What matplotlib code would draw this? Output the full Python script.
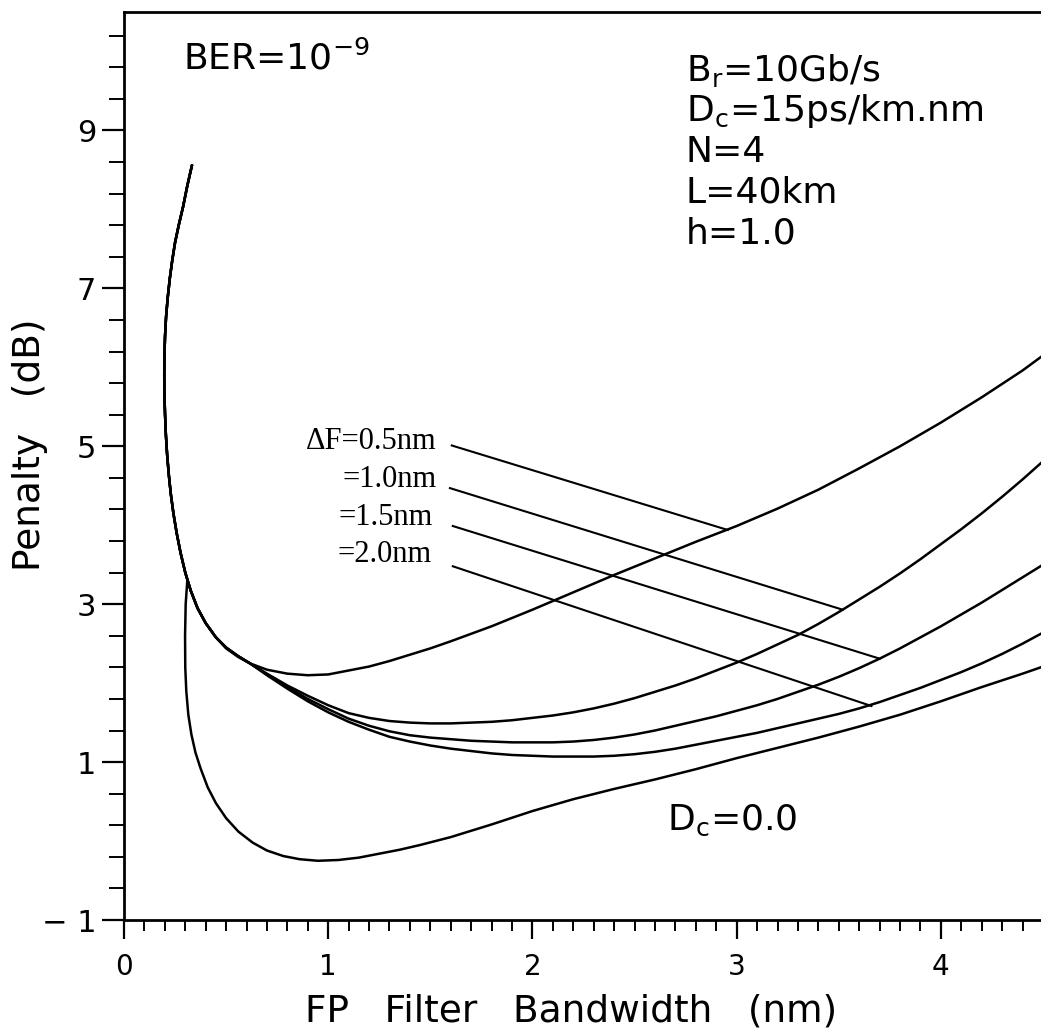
import numpy as np
import matplotlib
matplotlib.use('Agg')
import matplotlib.pyplot as plt
from matplotlib.ticker import FixedLocator

# Penalty vs FP filter bandwidth, Dc = 15 ps/km.nm for several channel spacings
# plus the dispersion-free reference curve.
# Steep left branch shared by the four Dc = 15 curves
top_x = [0.333, 0.310, 0.289, 0.268, 0.250, 0.236, 0.224, 0.214, 0.206, 0.201, 0.198,
         0.197, 0.198, 0.201, 0.205, 0.211, 0.219, 0.229, 0.242, 0.258, 0.277, 0.300,
         0.327, 0.360, 0.400, 0.450]
top_y = [8.56, 8.30, 8.03, 7.80, 7.58, 7.35, 7.12, 6.88, 6.64, 6.40, 6.15,
         5.90, 5.65, 5.40, 5.15, 4.90, 4.65, 4.40, 4.15, 3.90, 3.65, 3.40,
         3.17, 2.95, 2.76, 2.58]

df05_x = top_x + [0.50, 0.56, 0.617, 0.70, 0.80, 0.90, 1.0, 1.1, 1.2, 1.3, 1.4, 1.5, 1.6,
                  1.8, 2.0, 2.2, 2.4, 2.6, 2.8, 3.0, 3.2, 3.4, 3.6, 3.8, 4.0, 4.2, 4.4, 4.5]
df05_y = top_y + [2.44, 2.33, 2.25, 2.17, 2.12, 2.10, 2.11, 2.16, 2.21, 2.28, 2.36, 2.44, 2.53,
                  2.72, 2.93, 3.15, 3.37, 3.58, 3.79, 3.99, 4.21, 4.45, 4.72, 5.00, 5.30, 5.62,
                  5.96, 6.15]

x_right = [0.50, 0.56, 0.617, 0.70, 0.80, 0.90, 1.0, 1.1, 1.2, 1.3, 1.4, 1.5, 1.6, 1.7,
           1.8, 1.9, 2.0, 2.1, 2.2, 2.3, 2.4, 2.5, 2.6, 2.7, 2.8, 2.9, 3.0, 3.1, 3.2, 3.3,
           3.4, 3.5, 3.6, 3.7, 3.8, 3.9, 4.0, 4.1, 4.2, 4.3, 4.4, 4.5]

df10_x = top_x + x_right
df10_y = top_y + [2.45, 2.34, 2.25, 2.12, 1.97, 1.84, 1.72, 1.62, 1.56, 1.52, 1.50, 1.49,
                  1.49, 1.50, 1.51, 1.53, 1.56, 1.59, 1.63, 1.68, 1.74, 1.81, 1.89, 1.97,
                  2.06, 2.16, 2.26, 2.37, 2.49, 2.61, 2.75, 2.90, 3.06, 3.22, 3.39, 3.57,
                  3.76, 3.95, 4.15, 4.36, 4.58, 4.81]

df15_x = top_x + x_right
df15_y = top_y + [2.45, 2.34, 2.25, 2.11, 1.95, 1.80, 1.67, 1.55, 1.46, 1.39, 1.34, 1.31,
                  1.29, 1.27, 1.26, 1.25, 1.25, 1.25, 1.26, 1.28, 1.31, 1.35, 1.40, 1.46,
                  1.52, 1.58, 1.65, 1.72, 1.80, 1.89, 1.98, 2.08, 2.19, 2.31, 2.44, 2.58,
                  2.72, 2.87, 3.02, 3.18, 3.34, 3.50]

df20_x = top_x + x_right
df20_y = top_y + [2.45, 2.34, 2.25, 2.10, 1.93, 1.77, 1.63, 1.51, 1.41, 1.32, 1.26, 1.21,
                  1.17, 1.14, 1.11, 1.09, 1.08, 1.07, 1.07, 1.07, 1.08, 1.10, 1.13, 1.17,
                  1.22, 1.27, 1.32, 1.37, 1.43, 1.49, 1.55, 1.61, 1.68, 1.76, 1.85, 1.94,
                  2.04, 2.14, 2.25, 2.37, 2.50, 2.64]

dc0_x = [0.310, 0.302, 0.299, 0.300, 0.305, 0.315, 0.330, 0.350, 0.375, 0.41, 0.45, 0.50,
         0.56, 0.63, 0.70, 0.78, 0.86, 0.95, 1.05, 1.15, 1.25, 1.35, 1.45, 1.6, 1.8, 2.0,
         2.2, 2.4, 2.6, 2.8, 3.0, 3.2, 3.4, 3.6, 3.8, 4.0, 4.2, 4.4, 4.5]
dc0_y = [3.30, 3.00, 2.60, 2.20, 1.90, 1.60, 1.35, 1.12, 0.92, 0.68, 0.48, 0.29,
         0.12, -0.02, -0.12, -0.19, -0.23, -0.25, -0.24, -0.21, -0.16, -0.11, -0.05, 0.05,
         0.21, 0.38, 0.53, 0.66, 0.78, 0.91, 1.05, 1.18, 1.31, 1.45, 1.60, 1.77, 1.95,
         2.12, 2.21]

# labels and where their leader lines hit the curves
df_labels = ['ΔF=0.5nm', '=1.0nm', '=1.5nm', '=2.0nm']
df_label_pos = [(1.532, 4.96), (1.532, 4.48), (1.512, 4.00), (1.507, 3.53)]
leader_start = [(1.605, 5.01), (1.596, 4.47), (1.610, 3.99), (1.610, 3.48)]
leader_end = [(2.956, 3.94), (3.519, 2.93), (3.70, 2.31), (3.66, 1.71)]

params = [r'B$_\mathregular{r}$=10Gb/s', r'D$_\mathregular{c}$=15ps/km.nm', 'N=4',
          'L=40km', 'h=1.0']

xticks = [0, 1, 2, 3, 4]
yticks = [-1, 1, 3, 5, 7, 9]
ytick_labels = ['− 1', '1', '3', '5', '7', '9']

plt.rcParams['font.family'] = ['DejaVu Sans']
plt.rcParams['mathtext.fontset'] = 'dejavusans'

fig = plt.figure(figsize=(10.41, 10.34), dpi=100)
ax = fig.add_axes([124 / 1041, 114 / 1034, 919 / 1041, 908 / 1034])

lw = 1.8
for xs, ys in [(df05_x, df05_y), (df10_x, df10_y), (df15_x, df15_y),
               (df20_x, df20_y), (dc0_x, dc0_y)]:
    ax.plot(xs, ys, color='black', lw=lw, solid_capstyle='round',
            solid_joinstyle='round')

for lab, pos, p0, p1 in zip(df_labels, df_label_pos, leader_start, leader_end):
    ax.text(pos[0], pos[1], lab, ha='right', va='baseline', fontsize=22,
            family='Liberation Serif')
    ax.plot([p0[0], p1[0]], [p0[1], p1[1]], color='black', lw=1.5)

ax.text(0.289, 9.77, r'BER=10$^{\mathregular{-9}}$', fontsize=26, va='baseline')
for i, line in enumerate(params):
    ax.text(2.751, 9.63 - i * 0.515, line, fontsize=26, va='baseline')
ax.text(2.66, 0.14, r'D$_\mathregular{c}$=0.0', fontsize=26, va='baseline')

ax.set_xlim(0, 4.5)
ax.set_ylim(-1, 10.5)
ax.xaxis.set_major_locator(FixedLocator(xticks))
ax.xaxis.set_minor_locator(FixedLocator(np.arange(0, 4.51, 0.1)))
ax.yaxis.set_major_locator(FixedLocator(yticks))
ax.yaxis.set_minor_locator(FixedLocator(np.arange(-1, 10.5, 0.4)))
ax.set_yticklabels(ytick_labels)

ax.tick_params(axis='x', which='major', direction='out', length=14, width=1.6,
               labelsize=20, pad=10)
ax.tick_params(axis='x', which='minor', direction='out', length=8, width=1.4)
ax.tick_params(axis='y', which='major', direction='out', length=16, width=1.6,
               labelsize=22, pad=4)
ax.tick_params(axis='y', which='minor', direction='out', length=11, width=1.4)

for side in ['left', 'bottom', 'top']:
    ax.spines[side].set_linewidth(2)
ax.spines['right'].set_visible(False)

ax.set_xlabel('FP   Filter   Bandwidth   (nm)', fontsize=27)
ax.set_ylabel('Penalty   (dB)', fontsize=27)
ax.xaxis.set_label_coords(0.487, -0.081)
ax.yaxis.set_label_coords(-0.083, 0.523)

fig.savefig('out.png', dpi=100)
